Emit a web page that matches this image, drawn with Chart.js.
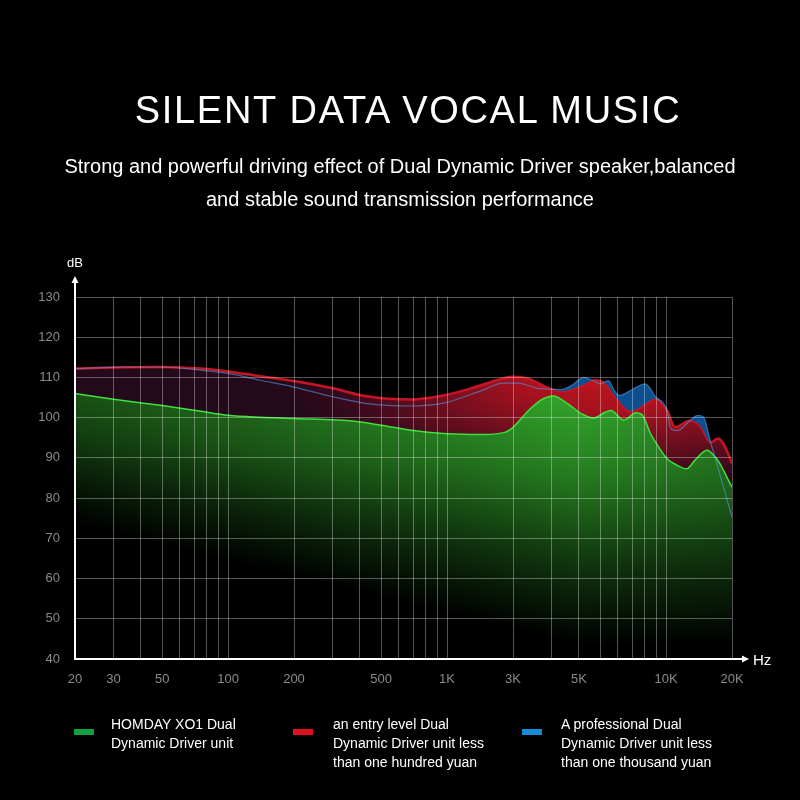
<!DOCTYPE html>
<html>
<head>
<meta charset="utf-8">
<script src="https://cdn.jsdelivr.net/npm/chart.js@4.4.1/dist/chart.umd.min.js"></script>
<style>
  body { margin: 0; background: #000; }
  #wrap { position: relative; width: 800px; height: 800px; background: #000; overflow: hidden;
          font-family: "Liberation Sans", Arial, sans-serif; color: #fff; }
  #wrap canvas { position: absolute; left: 0; top: 0; }
  .t { position: absolute; left: 0; width: 800px; text-align: center; white-space: nowrap; }
  #title { top: 91px; left: 8px; font-size: 38px; line-height: 38px; letter-spacing: 1.7px; }
  #sub { top: 150px; font-size: 20px; line-height: 33px; }
  .sw { position: absolute; width: 20px; height: 6px; top: 729px; }
  .lg { position: absolute; top: 715px; font-size: 14px; line-height: 19px; white-space: nowrap; }
</style>
</head>
<body>
<div id="wrap">
  <canvas id="fr" width="800" height="800"></canvas>
  <div class="t" id="title">SILENT DATA VOCAL MUSIC</div>
  <div class="t" id="sub">Strong and powerful driving effect of Dual Dynamic Driver speaker,balanced<br>and stable sound transmission performance</div>

  <div class="sw" style="left:74px;background:#12a040"></div>
  <div class="lg" style="left:111px">HOMDAY XO1 Dual<br>Dynamic Driver unit</div>
  <div class="sw" style="left:293px;background:#e0101e"></div>
  <div class="lg" style="left:333px">an entry level Dual<br>Dynamic Driver unit less<br>than one hundred yuan</div>
  <div class="sw" style="left:522px;background:#1a8ad8"></div>
  <div class="lg" style="left:561px">A professional Dual<br>Dynamic Driver unit less<br>than one thousand yuan</div>
</div>
<script>
// frequency response, Hz / dB
var greenHz = [20, 30, 50, 75, 100, 140, 200, 380, 500, 700, 1000, 1450, 1850, 2000, 2400, 2750, 3050, 3550, 4100, 4650,
               5300, 5600, 6400, 7300, 7800, 8500, 9300, 10100, 11200, 12400, 13600, 15400, 16600, 17500, 20000];
var greenDb = [106, 104.6, 103, 101.6, 100.6, 100.1, 99.8, 99.1, 98.1, 96.8, 96, 95.8, 96.4, 97.6, 102.2, 104.7, 105.4, 103.5, 101, 99.9,
               101.4, 101.8, 99.4, 101.2, 100.6, 96, 92.5, 89.8, 88.2, 87.3, 89.5, 91.9, 90.5, 88.8, 82.7];

var redHz = [20, 30, 50, 75, 100, 140, 200, 300, 430, 680, 960, 1270, 1550, 2000, 2350, 2900, 3350, 4050, 4750, 5300,
             6000, 6900, 8100, 8900, 10100, 11000, 12900, 14300, 16000, 17300, 18500, 20000];
var redDb = [112.2, 112.5, 112.6, 112.2, 111.5, 110.3, 109.1, 107.3, 105.3, 104.5, 105.5, 107.2, 108.7, 110.2, 109.7, 107.4, 106.5, 107.8, 109.3, 108.4,
             104.5, 101.6, 103.5, 104.7, 101.8, 97.6, 99.3, 98, 93.9, 94.8, 93, 88.6];

var blueHz = [20, 30, 50, 75, 100, 140, 200, 300, 430, 680, 960, 1450, 1800, 2100, 2650, 3300, 3700, 4200, 4600, 5000,
              5450, 5800, 6100, 7100, 8050, 8950, 10100, 10500, 11240, 13000, 13900, 14800, 15960, 20000];
var blueDb = [112.2, 112.5, 112.6, 111.8, 111, 109.3, 107.6, 105.2, 103.5, 102.9, 103.6, 106.8, 108.6, 108.6, 107.2, 107, 108, 110, 109.3, 108.4,
              109.2, 106.8, 105.5, 107.2, 108.4, 105.2, 101.8, 97.3, 96.8, 99.5, 100.6, 100.2, 94, 75.3];

// grid lines (log decades) and the labels printed under them
var gridHz = [20, 30, 40, 50, 60, 70, 80, 90, 100, 200, 300, 400, 500, 600, 700, 800, 900,
              1000, 2000, 3000, 4000, 5000, 6000, 7000, 8000, 9000, 10000, 20000];
var labelHz = [20, 30, 50, 100, 200, 500, 1000, 2000, 4000, 10000, 20000];
var labelTxt = ['20', '30', '50', '100', '200', '500', '1K', '3K', '5K', '10K', '20K'];

function pts(xs, ys) {
  return xs.map(function (x, i) { return { x: x, y: ys[i] }; });
}

// soft elliptical glow used as the red area fill
function glow(chart, key, cx, cy, rx, ry, stops) {
  var cache = chart.$glow || (chart.$glow = {});
  if (cache[key]) return cache[key];
  var c = document.createElement('canvas');
  c.width = chart.width;
  c.height = chart.height;
  var g = c.getContext('2d');
  g.translate(cx, cy);
  g.scale(1, ry / rx);
  var grad = g.createRadialGradient(0, 0, 0, 0, 0, rx);
  stops.forEach(function (s) { grad.addColorStop(s[0], s[1]); });
  g.fillStyle = grad;
  g.fillRect(-cx, -cy * rx / ry, c.width, c.height * rx / ry);
  cache[key] = chart.ctx.createPattern(c, 'no-repeat');
  return cache[key];
}

// green fill: fades downward, brighter and deeper toward the treble side
function greenGlow(chart) {
  var cache = chart.$glow || (chart.$glow = {});
  if (cache.g) return cache.g;
  var c = document.createElement('canvas');
  c.width = chart.width;
  c.height = chart.height;
  var g = c.getContext('2d');
  for (var x = 0; x < c.width; x++) {
    var t = Math.min(1, Math.max(0, (x - 75) / 505));
    var b = 0.5 + 0.5 * t;
    if (x > 580) b = 1 - 0.15 * Math.min(1, (x - 580) / 150);
    var len = 140 + 120 * t;
    var top = 385;
    var grad = g.createLinearGradient(0, top, 0, top + len);
    function col(k) {
      return 'rgb(' + Math.round(52 * b * k) + ',' + Math.round(172 * b * k) + ',' + Math.round(44 * b * k) + ')';
    }
    grad.addColorStop(0, col(1));
    grad.addColorStop(0.35, col(0.72));
    grad.addColorStop(0.7, col(0.3));
    grad.addColorStop(1, '#000');
    g.fillStyle = grad;
    g.fillRect(x, 0, 1, c.height);
  }
  cache.g = chart.ctx.createPattern(c, 'no-repeat');
  return cache.g;
}

var axisArrows = {
  id: 'axisArrows',
  afterDraw: function (chart) {
    var ctx = chart.ctx, a = chart.chartArea;
    ctx.save();
    ctx.strokeStyle = '#fff';
    ctx.fillStyle = '#fff';
    ctx.lineWidth = 2;
    ctx.beginPath();
    ctx.moveTo(a.left, a.bottom + 1);
    ctx.lineTo(a.left, 282);
    ctx.moveTo(a.left - 1, a.bottom);
    ctx.lineTo(743, a.bottom);
    ctx.stroke();
    ctx.beginPath();
    ctx.moveTo(a.left, 276);
    ctx.lineTo(a.left - 3.5, 283);
    ctx.lineTo(a.left + 3.5, 283);
    ctx.closePath();
    ctx.fill();
    ctx.beginPath();
    ctx.moveTo(749, a.bottom);
    ctx.lineTo(742, a.bottom - 3.5);
    ctx.lineTo(742, a.bottom + 3.5);
    ctx.closePath();
    ctx.fill();
    ctx.font = '13px "Liberation Sans", Arial, sans-serif';
    ctx.textAlign = 'center';
    ctx.textBaseline = 'alphabetic';
    ctx.fillText('dB', a.left, 267);
    ctx.font = '15px "Liberation Sans", Arial, sans-serif';
    ctx.textAlign = 'left';
    ctx.fillText('Hz', 753, a.bottom + 6);
    ctx.restore();
  }
};

new Chart(document.getElementById('fr'), {
  type: 'line',
  data: {
    datasets: [{
      label: 'HOMDAY XO1 Dual Dynamic Driver unit',
      data: pts(greenHz, greenDb),
      order: 1,
      borderColor: '#3fe03c',
      borderWidth: 1.5,
      fill: 'origin',
      backgroundColor: function (c) { return greenGlow(c.chart); }
    }, {
      label: 'an entry level Dual Dynamic Driver unit less than one hundred yuan',
      data: pts(redHz, redDb),
      order: 2,
      borderColor: '#d8101c',
      borderWidth: 2.5,
      fill: { target: 0, below: 'transparent' },
      backgroundColor: function (c) {
        return glow(c.chart, 'r', 620, 372, 340, 125, [
          [0, '#c2161e'], [0.3, '#a8121e'], [0.6, '#6a0e1e'], [0.85, '#36091c'], [1, '#230919']
        ]);
      }
    }, {
      label: 'A professional Dual Dynamic Driver unit less than one thousand yuan',
      data: pts(blueHz, blueDb),
      order: 0,
      borderColor: 'rgba(80,150,230,0.6)',
      borderWidth: 1.2,
      fill: { target: 1, below: 'transparent' },
      backgroundColor: '#0b4f8e'
    }]
  },
  options: {
    responsive: false,
    animation: false,
    layout: { padding: { left: 0, top: 297, right: 68, bottom: 0 } },
    elements: {
      point: { radius: 0 },
      line: { cubicInterpolationMode: 'monotone' }
    },
    plugins: {
      legend: { display: false },
      tooltip: { enabled: false }
    },
    scales: {
      x: {
        type: 'logarithmic',
        min: 20,
        max: 20000,
        afterBuildTicks: function (s) {
          s.ticks = gridHz.map(function (v) { return { value: v }; });
        },
        afterFit: function (s) { s.height = 141; },
        grid: { color: 'rgba(255,255,255,0.33)', lineWidth: 1, drawTicks: false, z: 1 },
        border: { display: false },
        ticks: {
          autoSkip: false,
          maxRotation: 0,
          padding: 13,
          color: '#8a8a8a',
          font: { family: '"Liberation Sans", Arial, sans-serif', size: 13 },
          callback: function (v) {
            var k = labelHz.indexOf(v);
            return k < 0 ? '' : labelTxt[k];
          }
        }
      },
      y: {
        min: 40,
        max: 130,
        afterFit: function (s) { s.width = 75; },
        grid: { color: 'rgba(255,255,255,0.33)', lineWidth: 1, drawTicks: false, z: 1 },
        border: { display: false },
        ticks: {
          stepSize: 10,
          padding: 15,
          color: '#8a8a8a',
          font: { family: '"Liberation Sans", Arial, sans-serif', size: 13 }
        }
      }
    }
  },
  plugins: [axisArrows]
});
</script>
</body>
</html>
